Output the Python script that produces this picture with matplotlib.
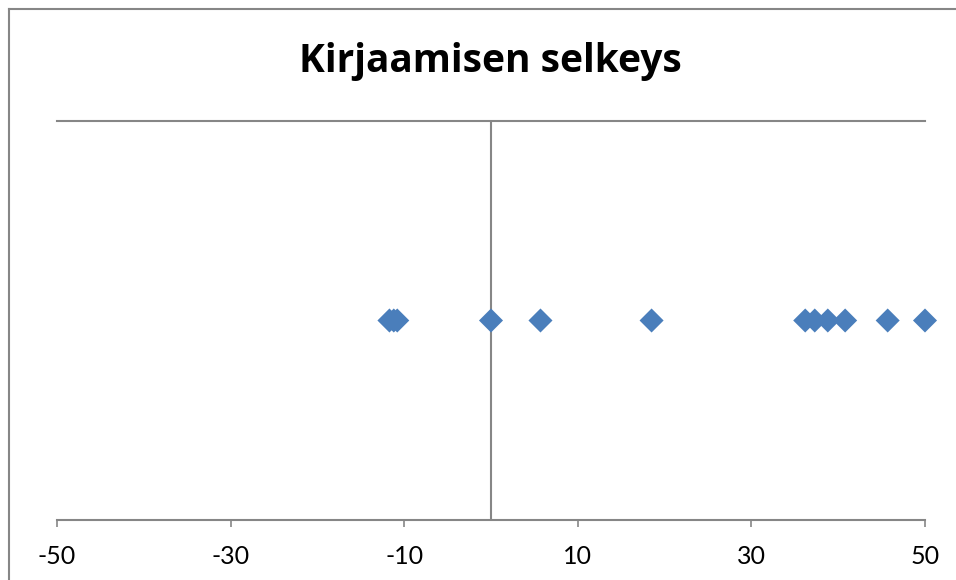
import matplotlib
matplotlib.use("Agg")
import matplotlib.pyplot as plt

# scatter values (all points sit on the same level)
x_vals = [-11.7, -11.2, -10.8, 0.0, 5.7, 18.5, 36.2, 37.3, 38.8, 40.8, 45.7, 50.0]
y_vals = [1] * len(x_vals)
x_ticks = [-50, -30, -10, 10, 30, 50]
title = "Kirjaamisen selkeys"

plt.rcParams['font.family'] = ['Lato', 'DejaVu Sans']
plt.rcParams['axes.unicode_minus'] = False

W, H = 956, 580
fig = plt.figure(figsize=(W / 100, H / 100), dpi=100)

# outer chart frame (only top and left visible in the reference)
fig.add_artist(plt.Line2D([9 / W, 9 / W], [0, 1 - 9 / H], color='#868686', lw=1.5))
fig.add_artist(plt.Line2D([9 / W, 1], [1 - 9 / H, 1 - 9 / H], color='#868686', lw=1.5))

ax = fig.add_axes([57 / W, (H - 520) / H, (925 - 57) / W, (520 - 121) / H])
ax.scatter(x_vals, y_vals, marker='D', s=150, color='#4a7ebb', edgecolors='none',
           zorder=3, clip_on=False)

ax.set_xlim(-50, 50)
ax.set_ylim(0, 2)
ax.set_xticks(x_ticks)
ax.set_yticks([])
ax.tick_params(axis='x', direction='out', length=5, width=1.2, color='#868686',
               labelsize=18, pad=13)
ax.axvline(0, color='#868686', lw=1.5, zorder=2)

for side in ['left', 'right']:
    ax.spines[side].set_visible(False)
for side in ['top', 'bottom']:
    ax.spines[side].set_color('#868686')
    ax.spines[side].set_linewidth(1.5)

fig.text(490 / W, 1 - 72 / H, title, ha='center', va='baseline',
         fontsize=28, fontweight='bold', family=['Open Sans', 'DejaVu Sans'])

fig.savefig('out.png', dpi=100)
